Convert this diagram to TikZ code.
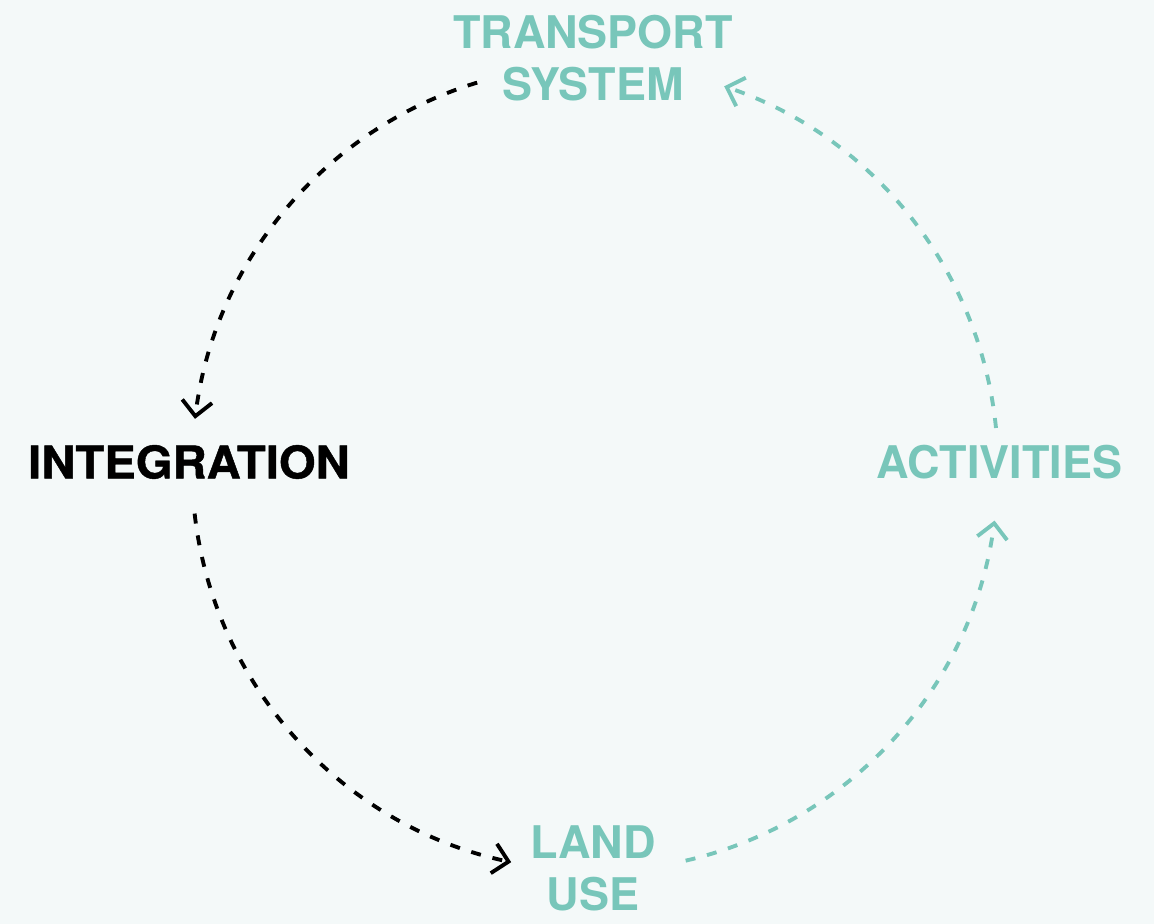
\documentclass[tikz,border=0pt]{standalone}
\usepackage{fontspec}
\setmainfont{TeX Gyre Heros}
\newfontfamily\heavyfont[FakeStretch=1.05,FakeBold=1]{TeX Gyre Heros Bold}
\usepackage{tikz}
\usetikzlibrary{arrows.meta}
\definecolor{teal}{HTML}{78C6BA}
\definecolor{paper}{HTML}{F4F9F9}

\begin{document}
\begin{tikzpicture}
            \tikzstyle{label}=[font=\fontsize{25.6}{29.6}\selectfont\bfseries, align=center, inner sep=0pt]
            \tikzstyle{link}=[line width=2.2pt, dash pattern=on 0.2cm off 0.24cm, -{Straight Barb[length=0.3cm,width=0.6cm,line width=2.2pt]}]
            \fill[paper] (0,0) rectangle (23.08,18.48);
            \useasboundingbox (0,0) rectangle (23.08,18.48);
            \coordinate (c) at (11.9,9.12);
            \node[label,text=teal] (transport) at (11.86,17.31) {TRANSPORT\\SYSTEM};
            \node[label,font=\fontsize{25.6}{29.6}\selectfont\heavyfont] (integration) at (3.78,9.24) {INTEGRATION};
            \node[label,text=teal] (activities) at (19.99,9.24) {ACTIVITIES};
            \node[label,text=teal] (landuse) at (11.86,1.11) {LAND\\USE};
            \foreach \a/\n in {107/s1,186.5/s2,283/s3,5.7/s4}
                \coordinate (\n) at ([shift={(\a:8.06)}]c);
            \draw[link] (s1) arc[start angle=107, end angle=173, radius=8.06];
            \draw[link] (s2) arc[start angle=186.5, end angle=258, radius=8.06];
            \draw[link,teal] (s3) arc[start angle=283, end angle=352.5, radius=8.06];
            \draw[link,teal] (s4) arc[start angle=5.7, end angle=71.3, radius=8.06];
        \end{tikzpicture}
\end{document}
